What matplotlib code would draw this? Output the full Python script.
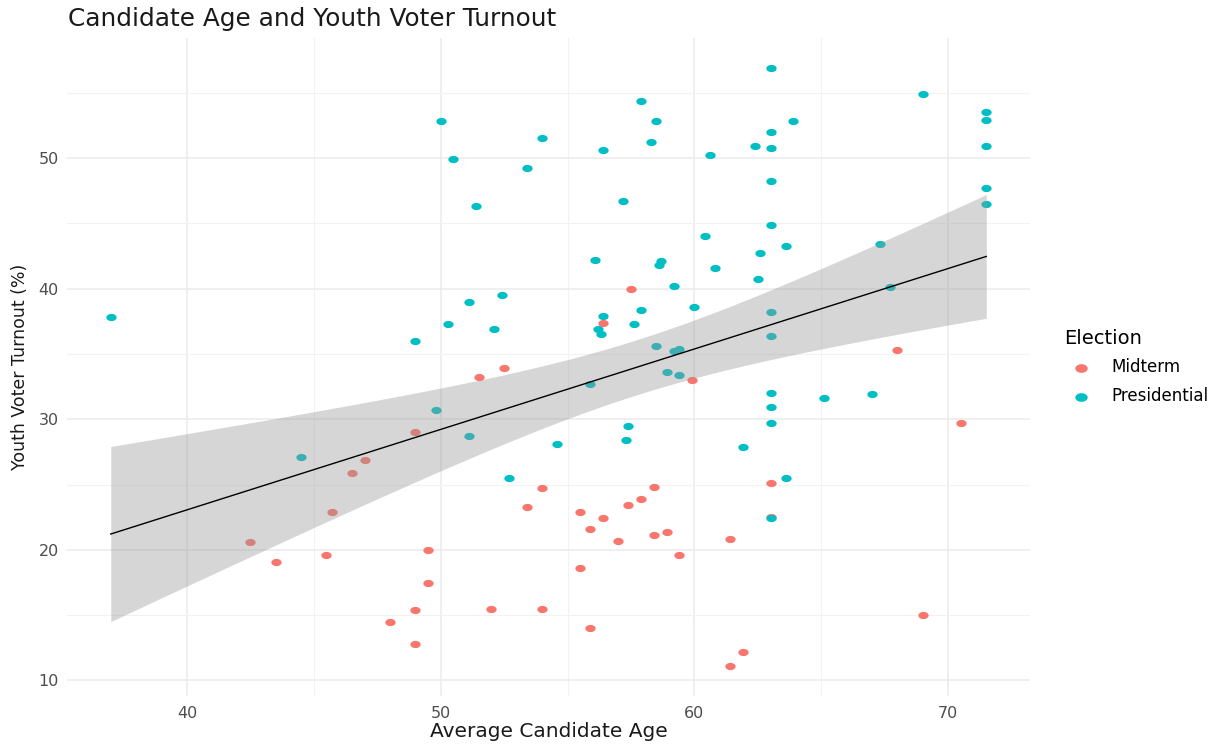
import matplotlib
matplotlib.use("Agg")
import matplotlib.pyplot as plt
import numpy as np

plt.rcParams['font.family'] = ['DejaVu Sans']

# midterm elections: average candidate age, youth turnout (%)
mid_age = [42.5, 43.5, 45.5, 45.7, 46.5, 47.0, 48.0, 49.0, 49.0, 49.0, 49.5, 49.5,
           51.5, 52.5, 52.0, 53.4, 54.0, 54.0, 55.5, 55.5, 55.9, 55.9, 56.4, 56.4,
           57.0, 57.4, 57.5, 57.9, 58.4, 58.4, 58.9, 59.4, 59.9, 61.4, 61.4, 61.9,
           63.0, 63.0, 68.0, 69.0, 70.5]
mid_turnout = [20.6, 19.1, 19.6, 22.9, 25.9, 26.9, 14.5, 29.0, 15.4, 12.8, 20.0, 17.5,
               33.2, 33.9, 15.5, 23.3, 24.7, 15.5, 22.9, 18.6, 21.6, 14.0, 22.4, 37.4,
               20.7, 23.4, 40.0, 23.9, 24.8, 21.1, 21.4, 19.6, 33.0, 20.8, 11.1, 12.2,
               25.1, 22.5, 35.3, 15.0, 29.7]

# presidential elections
pres_age = [37.0, 44.5, 49.0, 50.0, 50.3, 50.5, 49.8, 51.1, 51.4, 51.1, 52.1, 52.4,
            52.7, 53.4, 54.0, 54.6, 55.9, 56.1, 56.2, 56.3, 56.4, 56.4, 57.2, 57.3,
            57.4, 57.6, 57.9, 57.9, 58.3, 58.5, 58.5, 58.6, 58.7, 58.9, 59.2, 59.2,
            59.4, 59.4, 60.0, 60.4, 60.6, 60.8, 61.9, 62.4, 62.5, 62.6, 63.0, 63.0,
            63.0, 63.0, 63.0, 63.0, 63.0, 63.0, 63.0, 63.0, 63.0, 63.6, 63.9, 63.6,
            65.1, 67.0, 67.3, 67.7, 69.0, 71.5, 71.5, 71.5, 71.5, 71.5]
pres_turnout = [37.8, 27.1, 36.0, 52.8, 37.3, 49.9, 30.7, 39.0, 46.3, 28.7, 36.9, 39.5,
                25.5, 49.2, 51.5, 28.1, 32.7, 42.2, 36.9, 36.5, 37.9, 50.6, 46.7, 28.4,
                29.5, 37.3, 38.4, 54.4, 51.2, 52.8, 35.6, 41.8, 42.1, 33.6, 40.2, 35.2,
                35.4, 33.4, 38.6, 44.0, 50.2, 41.6, 27.9, 50.9, 40.7, 42.7, 56.9, 52.0,
                50.8, 48.2, 44.9, 38.2, 36.4, 32.0, 30.9, 29.7, 22.4, 25.5, 52.8, 43.3,
                31.6, 31.9, 43.4, 40.1, 54.9, 53.5, 52.9, 50.9, 47.7, 46.5]

groups = ["Midterm", "Presidential"]
colors = ["#F8766D", "#00BFC4"]

# slightly flattened dot
t = np.linspace(0, 2 * np.pi, 40)
dot = np.column_stack([np.cos(t), 0.7 * np.sin(t)])

fig = plt.figure(figsize=(12.2, 7.44), dpi=100)
ax = fig.add_axes([0.0549, 0.0645, 0.7894, 0.8845])

ax.scatter(mid_age, mid_turnout, s=55, marker=dot, color=colors[0], lw=0, label=groups[0], zorder=3)
ax.scatter(pres_age, pres_turnout, s=55, marker=dot, color=colors[1], lw=0, label=groups[1], zorder=3)

# linear fit over all elections with 95% band
x = np.array(mid_age + pres_age)
y = np.array(mid_turnout + pres_turnout)
n = len(x)
b, a = np.polyfit(x, y, 1)
resid = y - (a + b * x)
sigma = np.sqrt(np.sum(resid ** 2) / (n - 2))
sxx = np.sum((x - x.mean()) ** 2)
xs = np.linspace(x.min(), x.max(), 80)
fit = a + b * xs
se = sigma * np.sqrt(1.0 / n + (xs - x.mean()) ** 2 / sxx)
T95 = 1.982
ax.fill_between(xs, fit - T95 * se, fit + T95 * se, color="#999999", alpha=0.4, lw=0, zorder=4)
ax.plot(xs, fit, color="black", lw=1.0, zorder=5)

# ggplot-like expansion of 5%
xr = x.max() - x.min()
yr = y.max() - y.min()
ax.set_xlim(x.min() - 0.05 * xr, x.max() + 0.05 * xr)
ax.set_ylim(y.min() - 0.05 * yr, y.max() + 0.05 * yr)

ax.set_xticks([40, 50, 60, 70])
ax.set_xticks([45, 55, 65], minor=True)
ax.set_yticks([10, 20, 30, 40, 50])
ax.set_yticks([15, 25, 35, 45, 55], minor=True)
ax.grid(which="major", color="#EBEBEB", lw=1.1, zorder=0)
ax.grid(which="minor", color="#F2F2F2", lw=0.8, zorder=0)
ax.set_axisbelow(True)
for s in ax.spines.values():
    s.set_visible(False)
ax.tick_params(which="both", length=0, labelsize=11.5, labelcolor="#4D4D4D")
ax.tick_params(axis="x", pad=7)
ax.tick_params(axis="y", pad=6)

ax.set_xlabel("Average Candidate Age", fontsize=14.5, color="#1A1A1A", labelpad=1)
ax.set_ylabel("Youth Voter Turnout (%)", fontsize=12.5, color="#1A1A1A", labelpad=7)
fig.text(0.0557, 0.974, "Candidate Age and Youth Voter Turnout", fontsize=17.8,
         color="#1A1A1A", ha="left", va="center")

leg = ax.legend(title="Election", loc="center left", bbox_to_anchor=(1.02, 0.5),
                frameon=False, fontsize=12, title_fontsize=14, handletextpad=0.8,
                labelspacing=0.65, markerscale=1.2)
leg._legend_box.align = "left"

fig.savefig("out.png", dpi=100, facecolor="white")
